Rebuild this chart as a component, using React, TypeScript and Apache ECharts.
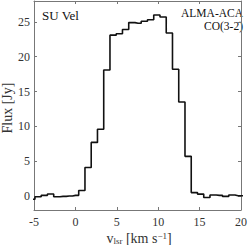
import React, { useEffect, useRef } from "react";
import * as echarts from "echarts";

const velocities = [
  -5.26, -4.51, -3.75, -3.0, -2.24, -1.49, -0.73, 0.02, 0.78, 1.53, 2.29, 3.04,
  3.8, 4.55, 5.31, 6.06, 6.82, 7.57, 8.33, 9.08, 9.84, 10.59, 11.35, 12.1,
  12.86, 13.61, 14.37, 15.12, 15.88, 16.63, 17.39, 18.14, 18.9, 19.65, 20.41,
];
const flux = [
  -0.45, -0.1, 0.1, 0.3, -0.1, -0.05, 0.0, 0.1, 0.8, 4.1, 7.7, 9.6,
  18.1, 23.1, 23.3, 23.9, 24.9, 24.8, 25.1, 25.3, 26.0, 25.7, 23.4, 18.2,
  13.5, 5.7, 0.5, 0.28, -0.2, 0.15, 0.1, -0.05, 0.15, 0.05, 0.05,
];
const yTicks = [0, 5, 10, 15, 20, 25];

const FONT = "'Liberation Serif', 'DejaVu Serif', serif";

export default function App() {
  const ref = useRef<HTMLDivElement>(null);
  useEffect(() => {
    document.body.style.margin = "0";
    const chart = echarts.init(ref.current!, undefined, { renderer: "svg" });
    const axisLine = { show: true, onZero: false, lineStyle: { color: "#777", width: 1 } };
    const tick = { show: true, inside: true, length: 3, lineStyle: { color: "#777" } };
    chart.setOption({
      animation: false,
      backgroundColor: "#ffffff",
      grid: { left: 34, right: 5, top: 1, bottom: 35, containLabel: false },
      xAxis: [
        {
          type: "value",
          min: -5,
          max: 20,
          interval: 5,
          axisLine,
          axisTick: tick,
          splitLine: { show: false },
          axisLabel: {
            margin: 6,
            color: "#333",
            fontFamily: FONT,
            fontSize: 12,
            formatter: (v: number) => String(v),
          },
        },
        {
          type: "value",
          position: "top",
          min: -5,
          max: 20,
          interval: 5,
          axisLine,
          axisTick: tick,
          splitLine: { show: false },
          axisLabel: { show: false },
        },
      ],
      yAxis: [
        {
          type: "value",
          min: -2,
          max: 28,
          axisLine,
          axisTick: { ...tick, customValues: yTicks },
          splitLine: { show: false },
          axisLabel: {
            customValues: yTicks,
            margin: 4,
            color: "#333",
            fontFamily: FONT,
            fontSize: 12,
          },
        },
        {
          type: "value",
          position: "right",
          min: -2,
          max: 28,
          axisLine,
          axisTick: { ...tick, customValues: yTicks },
          splitLine: { show: false },
          axisLabel: { show: false },
        },
      ],
      series: [
        {
          type: "line",
          step: "middle",
          data: velocities.map((v, i) => [v, flux[i]]),
          showSymbol: false,
          clip: true,
          lineStyle: { color: "#111", width: 1.6 },
        },
      ],
      graphic: [
        {
          type: "text",
          x: 42,
          y: 15,
          style: { text: "SU Vel", fontFamily: FONT, fontSize: 13, fill: "#111", textVerticalAlign: "middle" },
        },
        {
          type: "text",
          x: 243,
          y: 12.5,
          style: {
            text: "ALMA-ACA",
            fontFamily: FONT,
            fontSize: 11.5,
            fill: "#111",
            textAlign: "right",
            textVerticalAlign: "middle",
          },
        },
        {
          type: "text",
          x: 243,
          y: 26,
          style: {
            text: "CO(3-2)",
            fontFamily: FONT,
            fontSize: 11.5,
            fill: "#111",
            textAlign: "right",
            textVerticalAlign: "middle",
          },
        },
        {
          type: "text",
          x: 7,
          y: 108,
          rotation: Math.PI / 2,
          style: {
            text: "Flux [Jy]",
            fontFamily: FONT,
            fontSize: 14,
            fill: "#333",
            textAlign: "center",
            textVerticalAlign: "middle",
          },
        },
        {
          type: "text",
          x: 139,
          y: 238,
          style: {
            text: "{m|v}{s|lsr}{m| [km s}{p|−1}{m|]}",
            textAlign: "center",
            textVerticalAlign: "middle",
            rich: {
              m: { fontFamily: FONT, fontSize: 14, fill: "#333" },
              s: { fontFamily: FONT, fontSize: 9, fill: "#333", verticalAlign: "bottom", padding: [5, 0, 0, 0] },
              p: { fontFamily: FONT, fontSize: 9, fill: "#333", verticalAlign: "top", padding: [0, 0, 5, 0] },
            },
          },
        },
      ],
    });
    return () => chart.dispose();
  }, []);
  return <div ref={ref} style={{ width: 250, height: 245 }} />;
}
